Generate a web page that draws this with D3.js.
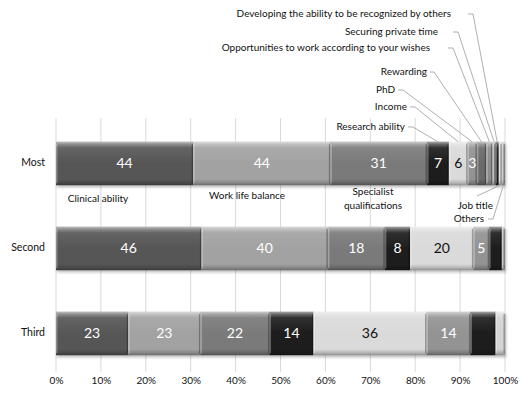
<!DOCTYPE html>
<html>
<head>
<meta charset="utf-8">
<script src="https://cdn.jsdelivr.net/npm/d3@7"></script>
<style>
  body { margin: 0; background: #fff; }
  text { font-family: Lato, "Open Sans", sans-serif; }
</style>
</head>
<body>
<svg id="chart" width="521" height="396"></svg>
<script>
// Ranking categories (rows)
const categories = ["Most", "Second", "Third"];

// Factors, in stacking order
const seriesNames = [
  "Clinical ability",
  "Work life balance",
  "Specialist qualifications",
  "Research ability",
  "Income",
  "PhD",
  "Rewarding",
  "Opportunities to work according to your wishes",
  "Securing private time",
  "Developing the ability to be recognized by others",
  "Job title",
  "Others"
];

// Number of respondents per factor, one array per ranking
const mostValues   = [44, 44, 31, 7, 6, 3, 3, 2, 1, 1, 1, 1];
const secondValues = [46, 40, 18, 8, 20, 5, 0, 0, 0, 4, 0, 1];
const thirdValues  = [23, 23, 22, 14, 36, 14, 0, 0, 0, 8, 3, 0];

// Percent axis ticks
const tickValues = [0, 0.1, 0.2, 0.3, 0.4, 0.5, 0.6, 0.7, 0.8, 0.9, 1.0];

// Grey shades for the factors
const seriesColors = [
  "#565656", "#a2a2a2", "#7a7a7a", "#1d1d1d", "#dadada", "#939393",
  "#6a6a6a", "#8c8c8c", "#a6a6a6", "#1d1d1d", "#d4d4d4", "#b8b8b8"
];
// Value labels are printed for the first six factors only
const labelledSeries = 6;
const darkTextSeries = new Set(["Income"]);

// Placement of factor callouts
const calloutsAbove = [
  { name: "Research ability", endX: 405, y: 127, elbowX: [408, 413] },
  { name: "Income", endX: 407, y: 107, elbowX: [410, 415] },
  { name: "PhD", endX: 395, y: 90, elbowX: [398, 403] },
  { name: "Rewarding", endX: 427, y: 72, elbowX: [430, 434] },
  { name: "Opportunities to work according to your wishes", endX: 430, y: 48, elbowX: [448, 453] },
  { name: "Securing private time", endX: 438, y: 32, elbowX: [453, 458] },
  { name: "Developing the ability to be recognized by others", endX: 451, y: 14, elbowX: [468, 473] }
];
const calloutsBelow = [
  { name: "Job title", endX: 493, y: 206, line: [477, 196] },
  { name: "Others", endX: 484, y: 219, line: [488, 219], elbowX: 493 }
];
const calloutsFree = [
  { lines: ["Clinical ability"], x: 98, y: 199 },
  { lines: ["Work life balance"], x: 247, y: 196 },
  { lines: ["Specialist", "qualifications"], x: 373, y: 192 }
];

const svg = d3.select("#chart");
const W = 521, H = 396;
const margin = { left: 56, right: 16, top: 121, bottom: 20 };

const x = d3.scaleLinear().domain([0, 1]).range([margin.left, W - margin.right]);
const y = d3.scaleBand().domain(categories)
  .range([margin.top, H - margin.bottom])
  .paddingInner(0.49).paddingOuter(0.245);

// Table for the stack layout
const valuesByCategory = { Most: mostValues, Second: secondValues, Third: thirdValues };
const table = categories.map(c => {
  const row = { category: c };
  seriesNames.forEach((s, i) => { row[s] = valuesByCategory[c][i]; });
  return row;
});
const stacked = d3.stack().keys(seriesNames).offset(d3.stackOffsetExpand)(table);
const color = d3.scaleOrdinal().domain(seriesNames).range(seriesColors);

// Defs: bevel shading and soft shadow
const defs = svg.append("defs");
const shine = defs.append("linearGradient").attr("id", "shine")
  .attr("x1", 0).attr("y1", 0).attr("x2", 0).attr("y2", 1);
[[0, "#fff", 0.6], [0.06, "#fff", 0.32], [0.14, "#fff", 0.08], [0.5, "#fff", 0],
 [0.86, "#000", 0], [0.95, "#000", 0.18], [1, "#000", 0.35]]
  .forEach(([o, c, a]) => shine.append("stop").attr("offset", o).attr("stop-color", c).attr("stop-opacity", a));
const shadow = defs.append("filter").attr("id", "shadow")
  .attr("x", "-5%").attr("y", "-20%").attr("width", "110%").attr("height", "150%");
shadow.append("feGaussianBlur").attr("stdDeviation", 1.6);

// Vertical gridlines
const gridTop = 118, gridBottom = 372;
svg.append("g").selectAll("line").data(tickValues).join("line")
  .attr("x1", d => x(d)).attr("x2", d => x(d))
  .attr("y1", gridTop).attr("y2", gridBottom)
  .attr("stroke", "#d9d9d9").attr("stroke-width", 1);

// Bar shadows
svg.append("g").selectAll("rect").data(categories).join("rect")
  .attr("x", x(0) + 1).attr("y", d => y(d) + 2)
  .attr("width", x(1) - x(0)).attr("height", y.bandwidth())
  .attr("fill", "#000").attr("opacity", 0.28).attr("filter", "url(#shadow)");

// Stacked segments
const layers = svg.append("g").selectAll("g").data(stacked).join("g");
const segs = layers.selectAll("g").data(d => d.map(p => ({ key: d.key, index: d.index, p })))
  .join("g").filter(d => d.p[1] - d.p[0] > 0);

segs.append("rect")
  .attr("x", d => x(d.p[0])).attr("y", d => y(d.p.data.category))
  .attr("width", d => x(d.p[1]) - x(d.p[0])).attr("height", y.bandwidth())
  .attr("fill", d => color(d.key));
segs.append("rect")
  .attr("x", d => x(d.p[0])).attr("y", d => y(d.p.data.category))
  .attr("width", d => x(d.p[1]) - x(d.p[0])).attr("height", y.bandwidth())
  .attr("fill", "url(#shine)");
// bevel edges
segs.append("line")
  .attr("x1", d => x(d.p[0]) + 0.75).attr("x2", d => x(d.p[0]) + 0.75)
  .attr("y1", d => y(d.p.data.category) + 2).attr("y2", d => y(d.p.data.category) + y.bandwidth() - 2)
  .attr("stroke", "#fff").attr("stroke-opacity", 0.3).attr("stroke-width", 1.5);
segs.append("line")
  .attr("x1", d => x(d.p[1]) - 0.75).attr("x2", d => x(d.p[1]) - 0.75)
  .attr("y1", d => y(d.p.data.category) + 2).attr("y2", d => y(d.p.data.category) + y.bandwidth() - 2)
  .attr("stroke", "#000").attr("stroke-opacity", 0.3).attr("stroke-width", 1.5);

// Value labels
segs.filter(d => d.index < labelledSeries)
  .append("text")
  .attr("x", d => (x(d.p[0]) + x(d.p[1])) / 2)
  .attr("y", d => y(d.p.data.category) + y.bandwidth() / 2 + 1)
  .attr("text-anchor", "middle").attr("dominant-baseline", "middle")
  .attr("font-size", 14)
  .attr("fill", d => darkTextSeries.has(d.key) ? "#111" : "#fff")
  .text(d => d.p.data[d.key]);

// Category labels
svg.append("g").selectAll("text").data(categories).join("text")
  .attr("x", 45).attr("y", d => y(d) + y.bandwidth() / 2)
  .attr("text-anchor", "end").attr("dominant-baseline", "middle")
  .attr("font-size", 10.5).attr("fill", "#111")
  .text(d => d);

// Percent axis
const axis = svg.append("g").attr("transform", `translate(0,${gridBottom})`)
  .call(d3.axisBottom(x).tickValues(tickValues).tickFormat(d3.format(".0%")).tickSize(0).tickPadding(5));
axis.select(".domain").remove();
axis.selectAll("text").attr("font-size", 10).attr("fill", "#111")
  .attr("font-family", "Lato, 'Open Sans', sans-serif");

// Callouts
const rowSegments = category => stacked.map(layer => ({ key: layer.key, p: layer.find(p => p.data.category === category) }));
const mostSegs = rowSegments("Most");
const segCenter = name => {
  const s = mostSegs.find(d => d.key === name);
  return (x(s.p[0]) + x(s.p[1])) / 2;
};
const barTop = y("Most"), barBottom = y("Most") + y.bandwidth();
const ann = svg.append("g");

calloutsAbove.forEach(c => {
  ann.append("text").attr("x", c.endX).attr("y", c.y)
    .attr("text-anchor", "end").attr("dominant-baseline", "middle")
    .attr("font-size", 10).attr("fill", "#111").text(c.name);
  ann.append("polyline")
    .attr("points", [[c.elbowX[0], c.y], [c.elbowX[1], c.y], [segCenter(c.name), barTop]].map(p => p.join(",")).join(" "))
    .attr("fill", "none").attr("stroke", "#a6a6a6").attr("stroke-width", 0.9);
});

calloutsBelow.forEach(c => {
  ann.append("text").attr("x", c.endX).attr("y", c.y)
    .attr("text-anchor", "end").attr("dominant-baseline", "middle")
    .attr("font-size", 10).attr("fill", "#111").text(c.name);
  const pts = c.elbowX
    ? [c.line, [c.elbowX, c.line[1]], [segCenter(c.name), barBottom]]
    : [c.line, [segCenter(c.name), barBottom]];
  ann.append("polyline")
    .attr("points", pts.map(p => p.join(",")).join(" "))
    .attr("fill", "none").attr("stroke", "#a6a6a6").attr("stroke-width", 0.9);
});

calloutsFree.forEach(c => {
  c.lines.forEach((t, i) => {
    ann.append("text").attr("x", c.x).attr("y", c.y + i * 14)
      .attr("text-anchor", "middle").attr("dominant-baseline", "middle")
      .attr("font-size", 10).attr("fill", "#111").text(t);
  });
});
</script>
</body>
</html>
